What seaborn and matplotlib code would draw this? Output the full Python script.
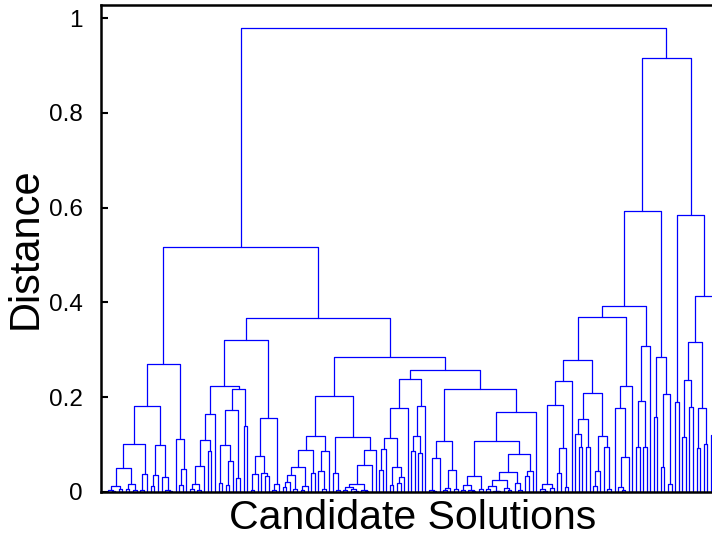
import matplotlib
matplotlib.use("Agg")
import matplotlib.pyplot as plt
import seaborn as sns
import pandas as pd

# Merge tree of candidate solutions: every merge is [distance, left, right],
# and 0 stands for a single candidate solution (a leaf).

group_a1 = [0.270,
    [0.181,
        [0.102,
            [0.050,
                [0.012, [0.005, 0, [0.003, 0, 0]], [0.007, 0, 0]],
                [0.016, [0.006, 0, 0], [0.004, 0, 0]]],
            [0.038, [0.004, 0, 0], 0]],
        [0.100,
            [0.036, [0.013, 0, 0], 0],
            [0.032, 0, [0.004, 0, [0.002, 0, 0]]]]],
    [0.112, 0, [0.048, [0.015, 0, 0], 0]]]

group_a2a = [0.321,
    [0.223,
        [0.165,
            [0.110,
                [0.054, [0.016, [0.007, 0, 0], [0.004, 0, 0]], 0],
                [0.087, 0, 0]],
            0],
        [0.217,
            [0.174,
                [0.100, [0.020, 0, 0], [0.066, [0.014, 0, 0], 0]],
                [0.030, 0, 0]],
            [0.139, 0, 0]]],
    [0.157,
        [0.077,
            [0.039, [0.005, 0, 0], 0],
            [0.041, 0, [0.034, 0, 0]]],
        [0.017, [0.004, 0, 0], 0]]]

group_a2b_left = [0.203,
    [0.118,
        [0.089,
            [0.052,
                [0.035, [0.022, [0.011, 0, 0], 0], [0.006, 0, 0]],
                [0.013, [0.004, 0, 0], 0]],
            [0.041, 0, 0]],
        [0.087, [0.045, 0, [0.006, 0, 0]], 0]],
    [0.117,
        [0.041, 0, [0.005, 0, 0]],
        [0.089,
            [0.056,
                [0.017, [0.010, [0.004, 0, 0], [0.006, 0, [0.003, 0, 0]]],
                        [0.005, 0, [0.002, 0, 0]]],
                0],
            0]]]

group_a2b_right = [0.257,
    [0.238,
        [0.177,
            [0.115,
                [0.091, [0.046, 0, 0], 0],
                [0.053, [0.015, 0, 0], [0.031, [0.020, 0, 0], 0]]],
            0],
        [0.181,
            [0.119, [0.087, 0, 0], [0.082, 0, 0]],
            0]],
    [0.217,
        [0.108,
            [0.072, [0.004, 0, [0.002, 0, 0]], 0],
            [0.046, [0.009, [0.004, 0, 0], 0], [0.006, 0, 0]]],
        [0.169,
            [0.108,
                [0.034, [0.014, [0.005, 0, 0], [0.004, 0, [0.002, 0, 0]]],
                        [0.006, 0, 0]],
                [0.080,
                    [0.042,
                        [0.025, [0.012, [0.006, 0, 0], [0.003, 0, [0.002, 0, 0]]],
                                [0.009, 0, [0.004, 0, 0]]],
                        [0.020, 0, [0.004, 0, 0]]],
                    [0.044, [0.034, 0, 0], 0]]],
            0]]]

group_b_left = [0.593,
    [0.392,
        [0.369,
            [0.278,
                [0.235,
                    [0.184, [0.017, [0.006, 0, [0.003, 0, 0]], [0.009, 0, 0]],
                            [0.093, [0.041, 0, 0], [0.010, 0, 0]]],
                    0],
                [0.210,
                    [0.154, [0.122, 0, [0.096, 0, 0]], [0.095, 0, 0]],
                    [0.119, [0.045, [0.012, 0, 0], 0], [0.096, 0, [0.006, 0, 0]]]]],
            [0.224,
                [0.177, 0, [0.073, [0.011, 0, [0.004, 0, 0]], 0]],
                0]],
        [0.308,
            [0.192, [0.096, 0, 0], [0.094, 0, 0]],
            0]],
    [0.286,
        [0.158, 0, 0],
        [0.207, [0.052, 0, 0], [0.016, 0, 0]]]]

group_b_right = [0.584,
    [0.190, 0, 0],
    [0.413,
        [0.317,
            [0.236, [0.117, 0, 0], [0.180, 0, 0]],
            [0.177, [0.092, 0, 0], [0.102, 0, 0]]],
        [0.120, 0, [0.050, 0, 0]]]]

# Upper merges joining the groups
h_a2b, h_a2, h_a, h_b, h_root = 0.285, 0.368, 0.517, 0.916, 0.979

tree = [h_root,
        [h_a, group_a1, [h_a2, group_a2a, [h_a2b, group_a2b_left, group_a2b_right]]],
        [h_b, group_b_left, group_b_right]]


def collect(node, rows, state):
    """Walk the tree; return (x, height) of the node and store its bracket."""
    if isinstance(node, int):
        x = float(state["leaf"])
        state["leaf"] += 1
        return x, 0.0
    h, left, right = node
    xl, hl = collect(left, rows, state)
    xr, hr = collect(right, rows, state)
    sid = state["seg"]
    state["seg"] += 1
    for k, (x, y) in enumerate([(xl, hl), (xl, h), (xr, h), (xr, hr)]):
        rows.append({"link": sid, "step": k, "x": x, "y": y})
    return (xl + xr) / 2.0, h


rows, state = [], {"leaf": 0, "seg": 0}
collect(tree, rows, state)
n_leaves = state["leaf"]
links = pd.DataFrame(rows)

sns.set_style("white")
plt.rcParams["font.family"] = ["Liberation Sans", "DejaVu Sans"]
plt.rcParams["text.color"] = "black"
plt.rcParams["axes.labelcolor"] = "black"
plt.rcParams["ytick.color"] = "black"

W, H = 712, 538
fig = plt.figure(figsize=(W / 100, H / 100), dpi=100)
ax = fig.add_axes([101 / W, 46 / H, 624 / W, 487 / H])

sns.lineplot(data=links, x="x", y="y", units="link", estimator=None,
             sort=False, color="#0000ff", linewidth=0.9, legend=False, ax=ax)

spacing = 610.0 / (n_leaves - 1)
pad = 7.0 / spacing
ax.set_xlim(-pad, n_leaves - 1 + pad)
ax.set_ylim(0, 1.05 * h_root)

ax.set_xticks([])
ax.set_yticks([0, 0.2, 0.4, 0.6, 0.8, 1.0])
ax.set_yticklabels(["0", "0.2", "0.4", "0.6", "0.8", "1"])
ax.tick_params(axis="y", direction="in", length=5, width=1.5, colors="black",
               labelsize=17.5, pad=13, left=True, right=True)

for side in ["left", "right", "top", "bottom"]:
    ax.spines[side].set_visible(True)
    ax.spines[side].set_color("black")
    ax.spines[side].set_linewidth(1.8)

ax.set_xlabel("Candidate Solutions", fontsize=29.5, labelpad=5, color="black")
ax.set_ylabel("Distance", fontsize=30, labelpad=2.5, color="black")

fig.savefig("out.png", dpi=100)
